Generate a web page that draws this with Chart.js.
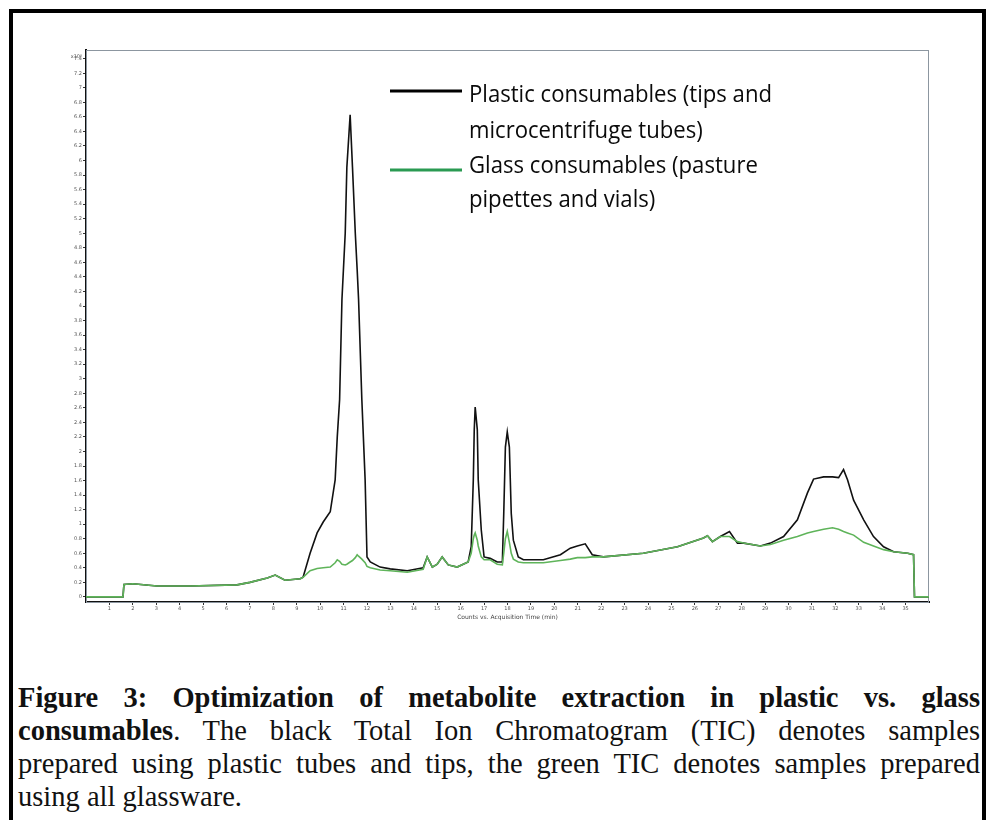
<!DOCTYPE html>
<html>
<head>
<meta charset="utf-8">
<script src="https://cdn.jsdelivr.net/npm/chart.js@4.4.1/dist/chart.umd.min.js"></script>
<style>
  html, body { margin: 0; padding: 0; background: #fff; }
  body { width: 994px; height: 820px; position: relative; overflow: hidden; }
  #frame { position: absolute; left: 9px; top: 9px; width: 977px; height: 830px;
           border: 4px solid #000; border-bottom: none; box-sizing: border-box; }
  #tic { position: absolute; left: 0; top: 0; }
  #caption { position: absolute; left: 18px; top: 681px; width: 962px;
             font-family: "Liberation Serif", "Times New Roman", serif;
             font-size: 28.5px; line-height: 33px; color: #111; }
  #caption div { text-align: justify; text-align-last: justify; }
  #caption div.last { text-align-last: left; }
</style>
</head>
<body>
<div id="frame"></div>
<canvas id="tic" width="994" height="630"></canvas>
<div id="caption">
  <div><b>Figure 3: Optimization of metabolite extraction in plastic vs. glass</b></div>
  <div><b>consumables</b>. The black Total Ion Chromatogram (TIC) denotes samples</div>
  <div>prepared using plastic tubes and tips, the green TIC denotes samples prepared</div>
  <div class="last">using all glassware.</div>
</div>
<script>
'use strict';

// acquisition time (min), shared by both traces
let acqTime = [
    0, 1.58, 1.62, 2.0, 3.03, 4.44, 6.45, 7.0, 7.74, 8.08,
    8.5, 9.15, 9.27, 9.57, 9.87, 10.13, 10.43, 10.64, 10.73, 10.83,
    10.93, 11.07, 11.14, 11.28, 11.38, 11.5, 11.58, 11.64, 11.78, 11.92,
    12.0, 12.14, 12.56, 12.99, 13.72, 14.4, 14.57, 14.79, 15.0, 15.21,
    15.47, 15.85, 16.32, 16.45, 16.54, 16.58, 16.62, 16.71, 16.75, 16.88,
    17.0, 17.26, 17.56, 17.78, 17.84, 17.91, 17.99, 18.08, 18.16, 18.25,
    18.46, 18.68, 19.53, 20.26, 20.68, 20.98, 21.32, 21.62, 22.09, 23.8,
    25.26, 26.37, 26.54, 26.75, 27.09, 27.48, 27.82, 28.08, 28.8, 29.23,
    29.79, 30.38, 30.81, 31.07, 31.5, 31.88, 32.14, 32.35, 32.52, 32.78,
    33.21, 33.63, 34.06, 34.49, 35.09, 35.34, 35.38, 36
];

// TIC counts (x10^8) - plastic tips and tubes
let plasticTIC = [
    0, 0, 0.17, 0.18, 0.15, 0.15, 0.165, 0.2, 0.26, 0.3,
    0.23, 0.25, 0.27, 0.6, 0.88, 1.03, 1.17, 1.61, 2.2, 2.71,
    4.09, 5.0, 5.91, 6.63, 5.91, 5.0, 4.5, 4.09, 2.71, 1.61,
    0.55, 0.48, 0.41, 0.385, 0.36, 0.4, 0.55, 0.41, 0.45, 0.55,
    0.44, 0.41, 0.48, 0.69, 1.61, 2.3, 2.61, 2.3, 1.61, 0.92,
    0.55, 0.53, 0.48, 0.48, 1.15, 2.06, 2.27, 2.06, 1.15, 0.78,
    0.55, 0.51, 0.51, 0.58, 0.67, 0.7, 0.73, 0.58, 0.55, 0.6,
    0.69, 0.81, 0.84, 0.76, 0.83, 0.9, 0.74, 0.74, 0.7, 0.74,
    0.83, 1.06, 1.43, 1.62, 1.65, 1.65, 1.64, 1.75, 1.61, 1.33,
    1.06, 0.83, 0.69, 0.62, 0.6, 0.58, 0, 0
];

// TIC counts (x10^8) - pasteur pipettes and glass vials
let glassTIC = [
    0, 0, 0.17, 0.18, 0.15, 0.15, 0.165, 0.2, 0.26, 0.3,
    0.23, 0.25, 0.27, 0.36, 0.39, 0.4, 0.41, 0.47, 0.51, 0.49,
    0.45, 0.44, 0.45, 0.48, 0.5, 0.54, 0.58, 0.56, 0.52, 0.47,
    0.42, 0.4, 0.37, 0.36, 0.34, 0.38, 0.55, 0.41, 0.45, 0.55,
    0.44, 0.41, 0.48, 0.6, 0.8, 0.85, 0.88, 0.78, 0.7, 0.55,
    0.51, 0.51, 0.45, 0.44, 0.6, 0.8, 0.9, 0.75, 0.6, 0.52,
    0.48, 0.47, 0.47, 0.5, 0.52, 0.54, 0.54, 0.55, 0.55, 0.6,
    0.69, 0.81, 0.84, 0.76, 0.83, 0.83, 0.76, 0.74, 0.7, 0.72,
    0.78, 0.83, 0.88, 0.9, 0.93, 0.95, 0.93, 0.9, 0.88, 0.85,
    0.75, 0.7, 0.65, 0.62, 0.6, 0.58, 0, 0
];

let legendLines = [
    ['Plastic consumables (tips and', 'microcentrifuge tubes)'],
    ['Glass consumables (pasture', 'pipettes and vials)']
];
let legendColors = ['#000000', '#2a9a52'];
let yExponent = 'x10\u2078';
let xTitle = 'Counts vs. Acquisition Time (min)';

function toPoints(values) {
    return acqTime.map((t, i) => ({ x: t, y: values[i] }));
}

// thin frame round the plot area
let plotFrame = {
    id: 'plotFrame',
    beforeDatasetsDraw(chart) {
        let c = chart.ctx, a = chart.chartArea;
        c.save();
        c.strokeStyle = '#8c96a0';
        c.lineWidth = 1;
        c.strokeRect(a.left + 0.5, a.top + 0.5, a.right - a.left - 1, a.bottom - a.top);
        c.restore();
    }
};

// legend inside the plot and the exponent over the y axis
let insideLegend = {
    id: 'insideLegend',
    afterDraw(chart) {
        let c = chart.ctx, a = chart.chartArea;
        c.save();
        c.fillStyle = '#555';
        c.font = '5px "DejaVu Sans"';
        c.textAlign = 'right';
        c.textBaseline = 'middle';
        c.fillText(yExponent, a.left - 4, a.top + 7);

        c.font = '23px "Open Sans"';
        c.textAlign = 'left';
        c.textBaseline = 'alphabetic';
        let squeeze = 303 / c.measureText(legendLines[0][0]).width;
        let swatchY = [91, 170];
        let baseY = [[102, 138], [173, 207]];
        for (let i = 0; i < legendLines.length; i++) {
            c.strokeStyle = legendColors[i];
            c.lineWidth = 3;
            c.beginPath();
            c.moveTo(390, swatchY[i]);
            c.lineTo(462, swatchY[i]);
            c.stroke();
            c.fillStyle = '#0a0a0a';
            for (let j = 0; j < legendLines[i].length; j++) {
                c.save();
                c.translate(469, baseY[i][j]);
                c.scale(squeeze, 1);
                c.fillText(legendLines[i][j], 0, 0);
                c.restore();
            }
        }
        c.restore();
    }
};

let tickFont = { size: 5, family: 'DejaVu Sans' };

new Chart(document.getElementById('tic'), {
    type: 'line',
    data: {
        datasets: [{
            label: 'Glass consumables',
            data: toPoints(glassTIC),
            borderColor: '#5fb45a',
            borderWidth: 1.6,
            pointRadius: 0,
            tension: 0,
            order: 0
        }, {
            label: 'Plastic consumables',
            data: toPoints(plasticTIC),
            borderColor: '#111111',
            borderWidth: 1.6,
            pointRadius: 0,
            tension: 0,
            order: 1
        }]
    },
    options: {
        responsive: false,
        animation: false,
        devicePixelRatio: 1,
        layout: { padding: { left: 20, top: 50, right: 65, bottom: 0 } },
        plugins: {
            legend: { display: false },
            tooltip: { enabled: false }
        },
        scales: {
            x: {
                type: 'linear',
                min: 0,
                max: 36,
                border: { display: true, color: '#111', width: 2 },
                grid: { drawOnChartArea: false, drawTicks: true, tickLength: 3, color: '#333' },
                ticks: {
                    stepSize: 1, autoSkip: false, maxRotation: 0, padding: 1,
                    color: '#555', font: tickFont
                },
                afterBuildTicks(scale) {
                    scale.ticks = scale.ticks.filter(t => t.value > 0 && t.value < 36);
                },
                title: {
                    display: true, text: xTitle, color: '#444',
                    font: { size: 6, family: 'DejaVu Sans' },
                    padding: { top: 0, bottom: 9 }
                },
                afterFit(scale) { scale.height = 28; }
            },
            y: {
                type: 'linear',
                min: -0.07,
                max: 7.52,
                border: { display: true, color: '#111', width: 2 },
                grid: { drawOnChartArea: false, drawTicks: true, tickLength: 3, color: '#333' },
                ticks: {
                    stepSize: 0.2, includeBounds: false, autoSkip: false, padding: 1,
                    color: '#555', font: tickFont,
                    callback: v => String(Math.round(v * 10) / 10)
                },
                afterFit(scale) { scale.width = 66; }
            }
        }
    },
    plugins: [plotFrame, insideLegend]
});
</script>
</body>
</html>
